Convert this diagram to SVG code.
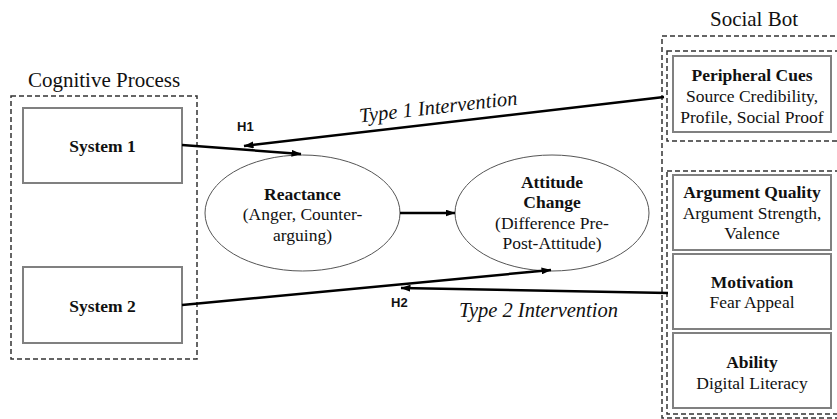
<svg xmlns="http://www.w3.org/2000/svg" width="837" height="419" viewBox="0 0 837 419">
<defs>
<style>
.dash{fill:none;stroke:#333;stroke-width:1.5;stroke-dasharray:5 3}
.box{fill:#fff;stroke:#808080;stroke-width:2}
.ell{fill:#fff;stroke:#555;stroke-width:1}
.t{font-family:"Liberation Serif","Times New Roman",serif;font-size:17.5px;fill:#111;text-anchor:middle}
.b{font-weight:bold}
.title{font-family:"Liberation Serif","Times New Roman",serif;font-size:21px;fill:#111;text-anchor:middle}
.it{font-family:"Liberation Serif","Times New Roman",serif;font-size:20.5px;font-style:italic;fill:#111}
.h{font-family:"Liberation Sans",Arial,sans-serif;font-size:13px;font-weight:bold;fill:#111}
.arr{fill:none;stroke:#000;stroke-width:2.5;marker-end:url(#ah)}
</style>
<marker id="ah" markerUnits="userSpaceOnUse" viewBox="0 0 10 7" markerWidth="10" markerHeight="7" refX="9.5" refY="3.5" orient="auto">
<path d="M0,0 L10,3.5 L0,7 z" fill="#000"/>
</marker>
</defs>
<rect width="837" height="419" fill="#fff"/>

<g id="cognitive-process">
<text class="title" x="104" y="87">Cognitive Process</text>
<rect class="dash" x="11" y="96" width="186" height="263"/>
</g>
<g id="system1">
<rect class="box" x="23" y="108" width="159" height="75"/>
<text class="t b" x="102.5" y="152">System 1</text>
</g>
<g id="system2">
<rect class="box" x="23" y="267" width="159" height="76"/>
<text class="t b" x="102.5" y="312">System 2</text>
</g>
<g id="reactance">
<ellipse class="ell" cx="302.5" cy="213" rx="97.5" ry="58"/>
<text class="t b" x="302.5" y="200">Reactance</text>
<text class="t" x="302.5" y="220">(Anger, Counter-</text>
<text class="t" x="302.5" y="241">arguing)</text>
</g>
<g id="attitude-change">
<ellipse class="ell" cx="552" cy="213" rx="97" ry="58"/>
<text class="t b" x="552" y="188">Attitude</text>
<text class="t b" x="552" y="208">Change</text>
<text class="t" x="552" y="229">(Difference Pre-</text>
<text class="t" x="552" y="249">Post-Attitude)</text>
</g>
<g id="social-bot">
<text class="title" x="754" y="26">Social Bot</text>
<rect class="dash" x="662" y="36" width="182" height="382"/>
<rect class="dash" x="667" y="51" width="172" height="90"/>
<rect class="dash" x="667" y="171" width="172" height="243"/>
</g>
<g id="peripheral-cues">
<rect class="box" x="673" y="56" width="158" height="76"/>
<text class="t b" x="752" y="80.5">Peripheral Cues</text>
<text class="t" x="752" y="102">Source Credibility,</text>
<text class="t" x="752" y="122.5">Profile, Social Proof</text>
</g>
<g id="argument-quality">
<rect class="box" x="673" y="175" width="158" height="75"/>
<text class="t b" x="752" y="198">Argument Quality</text>
<text class="t" x="752" y="218.5">Argument Strength,</text>
<text class="t" x="752" y="239">Valence</text>
</g>
<g id="motivation">
<rect class="box" x="673" y="254" width="158" height="75"/>
<text class="t b" x="752" y="288">Motivation</text>
<text class="t" x="752" y="308">Fear Appeal</text>
</g>
<g id="ability">
<rect class="box" x="673" y="333" width="158" height="75"/>
<text class="t b" x="752" y="368">Ability</text>
<text class="t" x="752" y="389">Digital Literacy</text>
</g>

<g id="connectors">
<line class="arr" x1="182" y1="145" x2="301" y2="154"/>
<line class="arr" x1="664" y1="97" x2="244" y2="146"/>
<line class="arr" x1="400" y1="213" x2="455" y2="213"/>
<line class="arr" x1="182" y1="305" x2="551" y2="270"/>
<line class="arr" x1="668" y1="293" x2="401" y2="288"/>
<text class="h" x="237" y="131">H1</text>
<text class="h" x="391" y="307">H2</text>
<text class="it" x="439" y="113.5" text-anchor="middle" transform="rotate(-6.5 439 113.5)">Type 1 Intervention</text>
<text class="it" x="459" y="317">Type 2 Intervention</text>
</g>
</svg>
